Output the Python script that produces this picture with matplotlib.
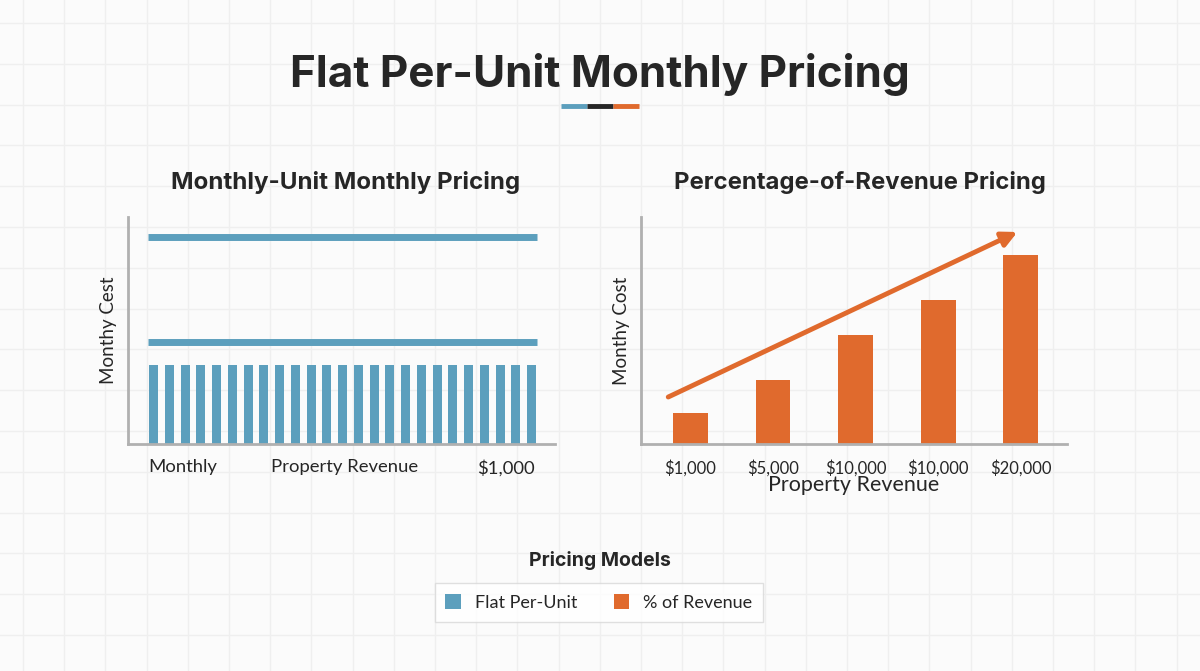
import matplotlib
matplotlib.use("Agg")
import matplotlib.pyplot as plt
from matplotlib.patches import Patch
import numpy as np

# ---- data ----
flat_bar_count = 25
flat_bar_values = [3.5] * flat_bar_count
flat_line_levels = [9.1, 4.5]
flat_tick_positions = [1.87, 12.1, 22.4]
flat_tick_labels = ["Monthly", "Property Revenue", "$1,000"]

rev_categories = ["$1,000", "$5,000", "$10,000", "$10,000", "$20,000"]
rev_values = [1.37, 2.82, 4.80, 6.34, 8.33]
trend_start = (-0.27, 2.07)
trend_end = (3.96, 9.34)

legend_labels = ["Flat Per-Unit", "% of Revenue"]

BLUE = "#5c9fbd"
ORANGE = "#e06a2d"
DARK = "#262626"
SPINE = "#b0b0b0"
BG = "#fbfbfb"
GRID = "#efefef"
FONT = ["Lato", "DejaVu Sans"]
TFONT = ["Inter", "DejaVu Sans"]

plt.rcParams['font.family'] = FONT

fig = plt.figure(figsize=(12, 6.71), dpi=100, facecolor=BG)

# background grid
bg = fig.add_axes([0, 0, 1, 1], zorder=-10)
bg.set_xlim(0, 1200)
bg.set_ylim(671, 0)
bg.set_facecolor(BG)
bg.axis("off")
for x in np.arange(23, 1200, 41.2):
    bg.axvline(x, color=GRID, lw=1.0)
for y in np.arange(23, 671, 40.8):
    bg.axhline(y, color=GRID, lw=1.0)

# title + accent
fig.text(0.5, 1 - 75 / 671, "Flat Per-Unit Monthly Pricing", ha="center", va="center",
         fontsize=31.7, fontweight="bold", color=DARK, family=TFONT)
bg.plot([561, 587], [105.5, 105.5], color=BLUE, lw=3.5, solid_capstyle="butt")
bg.plot([587, 613], [105.5, 105.5], color=DARK, lw=3.5, solid_capstyle="butt")
bg.plot([613, 639], [105.5, 105.5], color=ORANGE, lw=3.5, solid_capstyle="butt")

H = 671
ax_bottom = 1 - 444 / H
ax_h = (444 - 217) / H

def style_axes(ax):
    ax.set_facecolor("none")
    for s in ["top", "right"]:
        ax.spines[s].set_visible(False)
    for s in ["left", "bottom"]:
        ax.spines[s].set_color(SPINE)
        ax.spines[s].set_linewidth(2)
    ax.set_yticks([])
    ax.tick_params(axis="x", length=0, colors=DARK)
    ax.set_ylim(0, 10)

# ---- left panel ----
ax1 = fig.add_axes([128 / 1200, ax_bottom, (555 - 128) / 1200, ax_h])
style_axes(ax1)
idx = np.arange(flat_bar_count)
ax1.bar(idx, flat_bar_values, width=0.57, color=BLUE)
for lv in flat_line_levels:
    ax1.plot([-0.35, flat_bar_count - 1 + 0.35], [lv, lv], color=BLUE, lw=5, solid_capstyle="butt")
ax1.set_xlim(-1.62, 25.49)
ax1.set_xticks(flat_tick_positions)
ax1.set_xticklabels(flat_tick_labels, fontsize=13.3)
ax1.tick_params(axis="x", pad=11)
ax1.set_ylabel("Monthy Cest", fontsize=13.5, color=DARK, labelpad=8)
fig.text(346 / 1200, 1 - 182 / H, "Monthly-Unit Monthly Pricing", ha="center", va="center",
         fontsize=17.4, fontweight="bold", color=DARK, family=TFONT)

# ---- right panel ----
ax2 = fig.add_axes([641 / 1200, ax_bottom, (1067 - 641) / 1200, ax_h])
style_axes(ax2)
ridx = np.arange(len(rev_categories))
ax2.bar(ridx, rev_values, width=0.42, color=ORANGE)
ax2.set_xlim(-0.6, 4.56)
ax2.set_xticks(ridx)
ax2.set_xticklabels(rev_categories, fontsize=12)
ax2.tick_params(axis="x", pad=11)
ax2.set_xlabel("Property Revenue", fontsize=15.5, color=DARK, labelpad=-1)
ax2.set_ylabel("Monthy Cost", fontsize=13.5, color=DARK, labelpad=8)
ax2.annotate("", xy=trend_end, xytext=trend_start,
             arrowprops=dict(arrowstyle="-|>,head_length=0.9,head_width=0.45",
                             color=ORANGE, lw=3.5, shrinkA=0, shrinkB=0))
fig.text(860 / 1200, 1 - 182 / H, "Percentage-of-Revenue Pricing", ha="center", va="center",
         fontsize=17.2, fontweight="bold", color=DARK, family=TFONT)

# ---- legend ----
fig.text(0.5, 1 - 560 / H, "Pricing Models", ha="center", va="center",
         fontsize=14, fontweight="bold", color=DARK, family=TFONT)
handles = [Patch(facecolor=BLUE, edgecolor="none"), Patch(facecolor=ORANGE, edgecolor="none")]
leg = fig.legend(handles, legend_labels, loc="center", bbox_to_anchor=(599 / 1200, 1 - 602.5 / H),
                 ncol=2, fontsize=13, frameon=True, fancybox=False, edgecolor="#d8d8d8",
                 handlelength=0.85, handleheight=0.85, columnspacing=2.0, handletextpad=0.8,
                 borderpad=0.6)
leg.get_frame().set_facecolor("white")
leg.get_frame().set_linewidth(1.0)
for t in leg.get_texts():
    t.set_color(DARK)

fig.savefig("out.png", dpi=100, facecolor=BG)
